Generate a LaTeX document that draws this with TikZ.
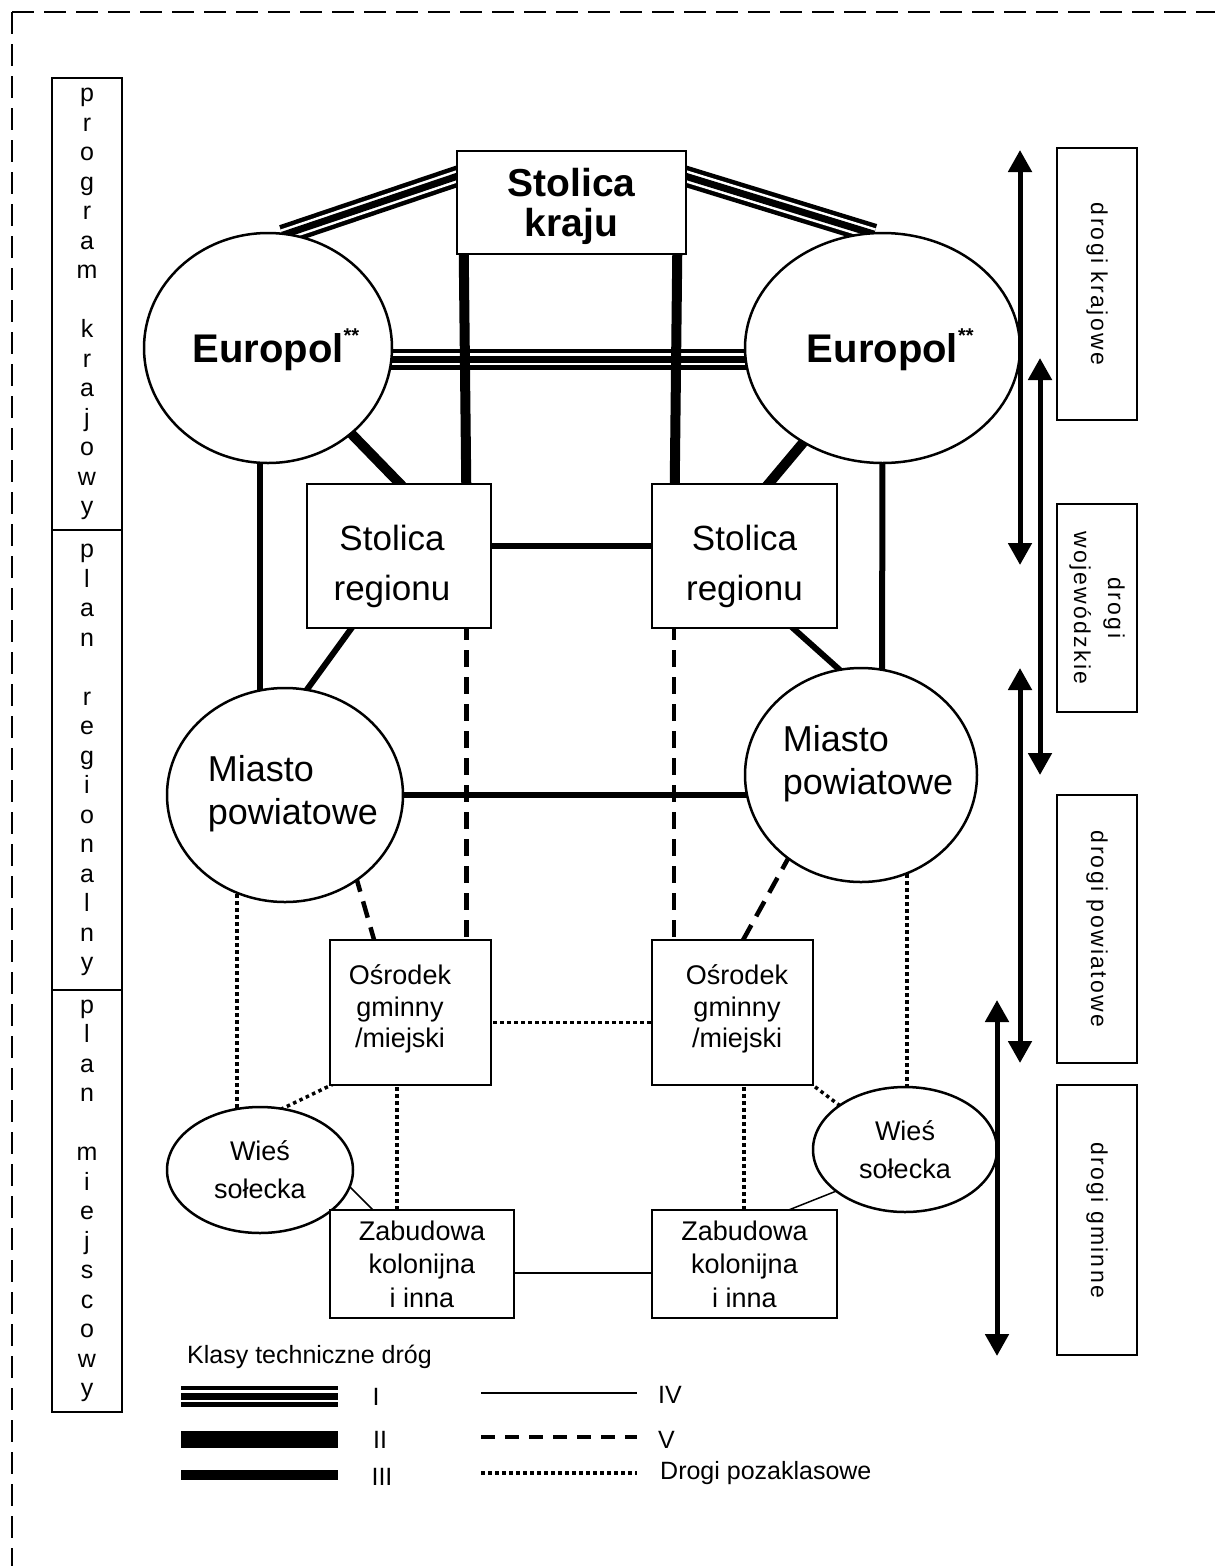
\documentclass[tikz,border=0pt]{standalone}
\usepackage{fontspec}
\setmainfont{Liberation Sans}
\newfontfamily\rozstrzel{Liberation Sans}[LetterSpace=10]
\usetikzlibrary{shapes.geometric,arrows.meta,calc,backgrounds}

\tikzset{
  wezel/.style={draw, line width=2.5pt, fill=white, inner sep=0pt, align=center},
  prost/.style={wezel, rectangle},
  owal/.style={wezel, ellipse},
  klasaI/.style={draw=black, line width=21pt,
     postaction={draw=white, line width=2.5pt, double=black, double distance=7pt}},
  klasaII/.style={draw=black, line width=10pt},
  klasaIII/.style={draw=black, line width=6pt},
  klasaIV/.style={draw=black, line width=1.5pt},
  klasaV/.style={draw=black, line width=4.5pt, dash pattern=on 17pt off 10pt},
  pozaklas/.style={draw=black, line width=3.5pt, dash pattern=on 3.5pt off 3.5pt},
  strzalka/.style={line width=5pt, {Triangle[width=23pt,length=22pt]}-{Triangle[width=23pt,length=22pt]}},
  ramka/.style={line width=2.5pt, dash pattern=on 22pt off 10pt},
  kolumna/.style={prost, minimum width=70pt, font=\fontsize{25}{29.5}\selectfont},
  drogi/.style={prost, rotate=-90, minimum height=80pt, font=\rozstrzel\fontsize{23}{34}\selectfont},
  europol/.style={owal, minimum height=230pt, text height=29pt, text depth=0pt,
     font=\bfseries\fontsize{40}{40}\selectfont},
  tekstK/.style={inner sep=0pt, align=center, font=\bfseries\fontsize{39}{40}\selectfont},
  tekstM/.style={inner sep=0pt, align=left, font=\fontsize{36}{43}\selectfont},
  tekstR/.style={inner sep=0pt, align=center, font=\fontsize{35}{50}\selectfont},
  tekstO/.style={inner sep=0pt, align=center, font=\fontsize{27}{31.5}\selectfont},
  legtxt/.style={inner sep=0pt, font=\fontsize{25}{30}\selectfont}
}

\begin{document}
\begin{tikzpicture}[x=1pt,y=-1pt]
\useasboundingbox (0,0) rectangle (1215,1566);
%ramka
  \draw[ramka] (12,12) -- (1215,12);
  \draw[ramka] (12,12) -- (12,1566);
%kolumna planow
  \node[kolumna, minimum height=452pt] (progK) at (87,304) {p\\r\\o\\g\\r\\a\\m\\[29.5pt]k\\r\\a\\j\\o\\w\\y};
  \node[kolumna, minimum height=460pt] (planR) at (87,760) {p\\l\\a\\n\\[29.5pt]r\\e\\g\\i\\o\\n\\a\\l\\n\\y};
  \node[kolumna, minimum height=422pt] (planM) at (87,1201) {p\\l\\a\\n\\[29.5pt]m\\i\\e\\j\\s\\c\\o\\w\\y};
%osrodki
  \node[prost, minimum width=229pt, minimum height=103pt] (kraju) at (571.5,202.5) {};
  \node[tekstK] (krajut) at (571.5,206) {Stolica\\kraju};
  \node[europol, minimum width=248pt] (eurL) at (268,348) {Europol\rlap{\raisebox{20pt}{\fontsize{20}{20}\selectfont **}}};
  \node[europol, minimum width=275pt] (eurR) at (882.5,348) {Europol\rlap{\raisebox{20pt}{\fontsize{20}{20}\selectfont **}}};
  \node[prost, minimum width=184pt, minimum height=144pt] (regL) at (399,556) {};
  \node[tekstR] (regLt) at (392,566) {Stolica\\regionu};
  \node[prost, minimum width=185pt, minimum height=144pt] (regR) at (744.5,556) {};
  \node[tekstR] (regRt) at (744.5,566) {Stolica\\regionu};
  \node[owal, minimum width=236pt, minimum height=214pt] (miaL) at (285,795) {};
  \node[tekstM] (miaLt) at (293,793.5) {Miasto\\powiatowe};
  \node[owal, minimum width=232pt, minimum height=214pt] (miaR) at (861,775) {};
  \node[tekstM] (miaRt) at (868,763.5) {Miasto\\powiatowe};
  \node[prost, minimum width=161pt, minimum height=145pt] (osL) at (410.5,1012.5) {};
  \node[tekstO] (osLt) at (400,1009) {Ośrodek\\gminny\\/miejski};
  \node[prost, minimum width=161pt, minimum height=145pt] (osR) at (732.5,1012.5) {};
  \node[tekstO] (osRt) at (737,1009) {Ośrodek\\gminny\\/miejski};
  \node[owal, minimum width=186pt, minimum height=126pt, font=\fontsize{27}{38}\selectfont] (wiesL) at (260,1170) {Wieś\\sołecka};
  \node[owal, minimum width=184pt, minimum height=125pt, font=\fontsize{27}{38}\selectfont] (wiesR) at (905,1149.5) {Wieś\\sołecka};
  \node[prost, minimum width=184pt, minimum height=108pt, font=\fontsize{27}{33.5}\selectfont] (zabL) at (422,1264) {Zabudowa\\kolonijna\\i inna};
  \node[prost, minimum width=185pt, minimum height=108pt, font=\fontsize{27}{33.5}\selectfont] (zabR) at (744.5,1264) {Zabudowa\\kolonijna\\i inna};
%drogi
  \begin{scope}[on background layer, shorten <=-6pt, shorten >=-6pt]
  \draw[klasaI] ($(kraju.north west)+(0,27)$) -- (eurL.80);
  \draw[klasaI] ($(kraju.north east)+(0,27)$) -- (eurR.97);
  \draw[klasaI] ($(eurL.east)+(0,11)$) -- ($(eurR.west)+(0,11)$);
  \draw[klasaII] ($(kraju.south west)+(8,0)$) -- ($(regL.north east)+(-26,0)$);
  \draw[klasaII] ($(kraju.south east)+(-10,0)$) -- ($(regR.north west)+(24,0)$);
  \draw[klasaII] (eurL) -- (regL.north);
  \draw[klasaII] (eurR) -- ($(regR.north)+(25,0)$);
  \draw[klasaIII] ($(eurL.center)+(-8,0)$) -- ($(miaL.center)+(-25,0)$);
  \draw[klasaIII] (eurR.center) -- ($(miaR.center)+(21,0)$);
  \draw[klasaIII] ($(regL.east)+(0,-10)$) -- ($(regR.west)+(0,-10)$);
  \draw[klasaIII] ($(regL.south west)+(45,0)$) -- (miaL.78);
  \draw[klasaIII] ($(regR.south east)+(-44,0)$) -- (miaR.102);
  \draw[klasaIII] (miaL.east) -- (miaR.west |- miaL.east);
  \draw[klasaV] ($(regL.south east)+(-26,0)$) -- ($(osL.north east)+(-26,0)$);
  \draw[klasaV] ($(regR.south west)+(23,0)$) -- ($(osR.north west)+(23,0)$);
  \draw[klasaV] (miaL.-50) -- ($(osL.north west)+(45,0)$);
  \draw[klasaV] (miaR.-131) -- ($(osR.north west)+(93,0)$);
  \draw[pozaklas] ($(miaL.center)+(-48,0)$) -- ($(wiesL.center)+(-23,0)$);
  \draw[pozaklas] ($(miaR.center)+(46,0)$) -- ($(wiesR.center)+(2,0)$);
  \draw[pozaklas] ($(osL.east)+(0,10)$) -- ($(osR.west)+(0,10)$);
  \draw[pozaklas] (osL.south west) -- (wiesL.69);
  \draw[pozaklas] (osR.south east) -- (wiesR.146);
  \draw[pozaklas] ($(osL.south west)+(68,0)$) -- ($(zabL.north west)+(68,0)$);
  \draw[pozaklas] ($(osR.south west)+(93,0)$) -- ($(zabR.north west)+(93,0)$);
  \draw[klasaIV] (wiesL.-11) -- ($(zabL.north west)+(43,0)$);
  \draw[klasaIV] (wiesR.-149) -- ($(zabR.north west)+(141,0)$);
  \draw[klasaIV, line width=2.5pt] ($(zabL.east)+(0,9)$) -- ($(zabR.west)+(0,9)$);
  \end{scope}
%kategorie drog
  \node[drogi, minimum width=272pt] (dKraj) at (1097,284) {drogi krajowe};
  \node[drogi, minimum width=208pt] (dWoj) at (1097,608) {drogi\\wojewódzkie};
  \node[drogi, minimum width=268pt] (dPow) at (1097,929) {drogi powiatowe};
  \node[drogi, minimum width=270pt] (dGmin) at (1097,1220) {drogi gminne};
  \coordinate (a1g) at (1020,150);  \coordinate (a1d) at (1020,565);
  \coordinate (a2g) at (1040,358);  \coordinate (a2d) at (1040,775);
  \coordinate (a3g) at (1020,668);  \coordinate (a3d) at (1020,1063);
  \coordinate (a4g) at (997,1000);  \coordinate (a4d) at (997,1356);
  \draw[strzalka] (a1g) -- (a1d);
  \draw[strzalka] (a2g) -- (a2d);
  \draw[strzalka] (a3g) -- (a3d);
  \draw[strzalka] (a4g) -- (a4d);
%legenda
  \node[legtxt, anchor=west] (legT) at (187,1357) {Klasy techniczne dróg};
  \coordinate (lI) at (181,1396);   \coordinate (lII) at (181,1439);  \coordinate (lIII) at (181,1475);
  \coordinate (lIV) at (481,1393);  \coordinate (lV) at (481,1437);   \coordinate (lP) at (481,1473);
  \draw[klasaI] (lI) -- ++(157,0);
  \draw[klasaII, line width=17pt] (lII) -- ++(157,0);
  \draw[klasaIII, line width=10pt] (lIII) -- ++(157,0);
  \draw[klasaIV] (lIV) -- ++(156,0);
  \draw[klasaV, dash pattern=on 14pt off 10pt] (lV) -- ++(156,0);
  \draw[pozaklas] (lP) -- ++(156,0);
  \node[legtxt] (tI) at (376,1397) {I};
  \node[legtxt] (tII) at (380,1440) {II};
  \node[legtxt] (tIII) at (382,1477) {III};
  \node[legtxt, anchor=west] (tIV) at (658,1395) {IV};
  \node[legtxt, anchor=west] (tV) at (658,1440) {V};
  \node[legtxt, anchor=west] (tP) at (660,1473) {Drogi pozaklasowe};
\end{tikzpicture}
\end{document}
